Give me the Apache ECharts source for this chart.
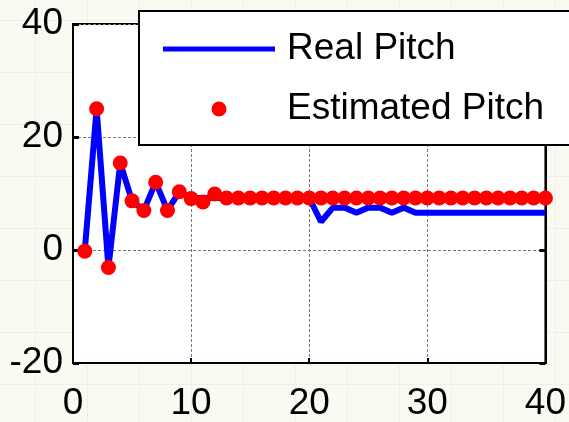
<!DOCTYPE html>
<html>
<head>
<meta charset="utf-8">
<script src="https://cdn.jsdelivr.net/npm/echarts@6/dist/echarts.min.js"></script>
<style>
  html, body {
    margin: 0;
    padding: 0;
    background-color: #fafaf3;
    background-image:
      linear-gradient(#efefe8 1px, transparent 1px),
      linear-gradient(90deg, #efefe8 1px, transparent 1px);
    background-size: 52px 52px;
    background-position: 35px 20px;
  }
  #chart {
    width: 569px;
    height: 422px;
  }
</style>
</head>
<body>
<div id="chart"></div>
<script>
// x positions (sample index)
const steps = [1, 2, 3, 4, 5, 6, 7, 8, 9, 10, 11, 12, 13, 14, 15, 16, 17, 18, 19, 20,
  21, 22, 23, 24, 25, 26, 27, 28, 29, 30, 31, 32, 33, 34, 35, 36, 37, 38, 39, 40]
const realPitch = [0, 25, -3.1, 15.4, 8.7, 7, 12, 7, 10.3, 9.2, 9.2, 9.2, 9.2, 9.2, 9.2, 9.2, 9.2, 9.2, 9.2, 9.2,
  5, 7.5, 7.5, 6.6, 7.5, 7.5, 6.6, 7.5, 6.6, 6.6, 6.6, 6.6, 6.6, 6.6, 6.6, 6.6, 6.6, 6.6, 6.6, 6.6]
const estimatedPitch = [-0.2, 25, -3.1, 15.4, 8.7, 7, 12, 7, 10.3, 9.1, 8.5, 9.9, 9.2, 9.2, 9.2, 9.2, 9.2, 9.2, 9.2, 9.2,
  9.2, 9.2, 9.2, 9.2, 9.2, 9.2, 9.2, 9.2, 9.2, 9.2, 9.2, 9.2, 9.2, 9.2, 9.2, 9.2, 9.2, 9.2, 9.2, 9.2]
const xTicks = [0, 10, 20, 30, 40]
const yTicks = [-20, 0, 20, 40]

const chartDom = document.getElementById('chart')
const myChart = echarts.init(chartDom)
const font = 'Liberation Sans, Arial, sans-serif'

const option = {
  animation: false,
  grid: {
    left: 73,
    right: 18,
    top: 24,
    bottom: 57,
    show: true,
    backgroundColor: '#fff',
    borderColor: '#000',
    borderWidth: 2,
  },
  legend: {
    orient: 'vertical',
    left: 139,
    top: 11,
    data: [
      { name: 'Real Pitch', icon: 'path://M0,0H112V5H0Z', itemStyle: { color: '#0000ff' } },
      { name: 'Estimated Pitch', icon: 'circle' },
    ],
    symbolKeepAspect: true,
    backgroundColor: '#fff',
    borderColor: '#000',
    borderWidth: 2,
    borderRadius: 0,
    padding: [18, 27, 16, 24],
    itemWidth: 112,
    itemHeight: 15,
    itemGap: 20,
    textStyle: { fontSize: 37, lineHeight: 40, color: '#000', fontFamily: font, padding: [0, 0, 0, 7] },
  },
  xAxis: {
    type: 'value',
    min: xTicks[0],
    max: xTicks[xTicks.length - 1],
    interval: 10,
    axisLine: { onZero: false, lineStyle: { color: '#000', width: 2 } },
    axisTick: { inside: true, length: 5, lineStyle: { color: '#000', width: 2 } },
    axisLabel: { fontSize: 37, color: '#000', fontFamily: font, margin: 22 },
    splitLine: { lineStyle: { color: '#777', type: [3, 2], width: 1 } },
  },
  yAxis: [
    {
      type: 'value',
      min: yTicks[0],
      max: yTicks[yTicks.length - 1],
      interval: 20,
      axisLine: { lineStyle: { color: '#000', width: 2 } },
      axisTick: { inside: true, length: 6, lineStyle: { color: '#000', width: 3 } },
      axisLabel: { fontSize: 37, color: '#000', fontFamily: font, margin: 10 },
      splitLine: { lineStyle: { color: '#777', type: [3, 2], width: 1 } },
    },
    {
      type: 'value',
      position: 'right',
      min: yTicks[0],
      max: yTicks[yTicks.length - 1],
      interval: 20,
      axisLine: { show: true, lineStyle: { color: '#000', width: 2 } },
      axisTick: { inside: true, length: 6, lineStyle: { color: '#000', width: 3 } },
      axisLabel: { show: false },
      splitLine: { show: false },
    },
  ],
  series: [
    {
      name: 'Real Pitch',
      type: 'line',
      symbol: 'none',
      color: '#0000ff',
      lineStyle: { width: 6, color: '#0000ff' },
      data: steps.map((x, i) => [x, realPitch[i]]),
      z: 2,
    },
    {
      name: 'Estimated Pitch',
      type: 'scatter',
      symbolSize: 15,
      color: '#ff0000',
      itemStyle: { color: '#ff0000', opacity: 1 },
      data: steps.map((x, i) => [x, estimatedPitch[i]]),
      z: 3,
    },
  ],
}

option && myChart.setOption(option)
</script>
</body>
</html>
